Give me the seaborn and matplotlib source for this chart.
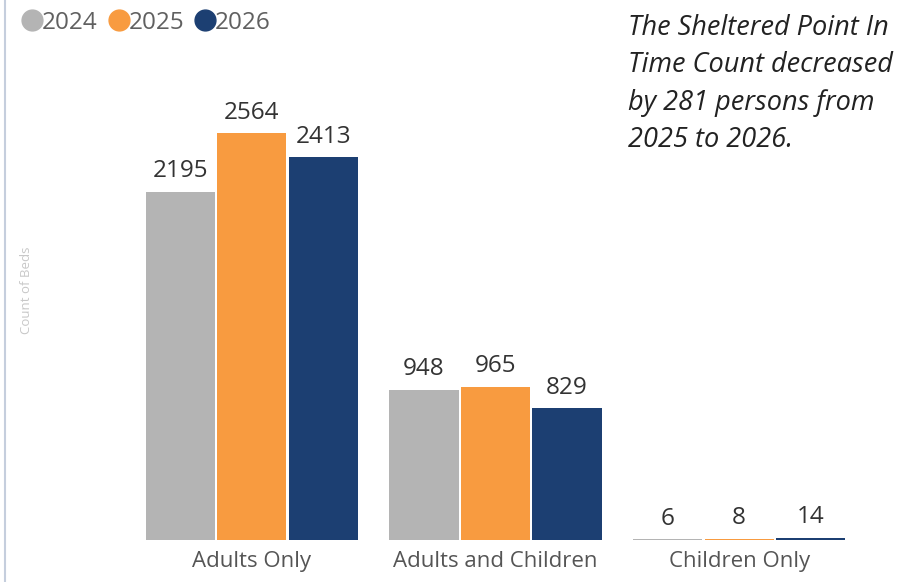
import numpy as np
import pandas as pd
import seaborn as sns
import matplotlib.pyplot as plt
from matplotlib.lines import Line2D

# data
categories = ["Adults Only", "Adults and Children", "Children Only"]
years = ["2024", "2025", "2026"]
beds_2024 = [2195, 948, 6]
beds_2025 = [2564, 965, 8]
beds_2026 = [2413, 829, 14]
colors = ["#B4B4B4", "#F89B40", "#1C3F72"]

df = pd.DataFrame({
    "category": categories * 3,
    "year": [y for y in years for _ in categories],
    "beds": beds_2024 + beds_2025 + beds_2026,
})

sns.set_theme(style="white")
plt.rcParams["font.family"] = ["Open Sans", "DejaVu Sans"]

fig = plt.figure(figsize=(9.05, 5.82), dpi=100)
ax = fig.add_axes([130 / 905, 42 / 582, 731 / 905, 500 / 582])

sns.barplot(data=df, x="category", y="beds", hue="year", order=categories,
            hue_order=years, palette=colors, width=0.88, gap=0.03,
            linewidth=0, saturation=1, legend=False, ax=ax)

for cont in ax.containers:
    ax.bar_label(cont, fontsize=17.5, color="#333333", padding=6)

ax.set_xlim(-0.5, 2.5)
ax.set_ylim(0, 3150)
ax.set_yticks([])
ax.set_xlabel("")
ax.set_ylabel("")
for s in ax.spines.values():
    s.set_visible(False)
ax.tick_params(axis="x", length=0, pad=8, labelsize=16, labelcolor="#555555")

# y axis title, very faint
fig.text(26 / 905, 1 - 290 / 582, "Count of Beds", rotation=90, fontsize=9.5,
         color="#C8C8C8", ha="center", va="center")

# left frame line
fig.add_artist(Line2D([5 / 905, 5 / 905], [0, 1], color="#C5CEDD", lw=1.5))

# legend
handles = [Line2D([], [], marker="o", ls="", markersize=15, color=c) for c in colors]
fig.legend(handles, years, loc="upper left", bbox_to_anchor=(-4 / 905, 1 + 11 / 582),
           ncol=3, frameon=False, fontsize=17.5, labelcolor="#606060",
           handletextpad=-0.2, columnspacing=0.25, handlelength=1.2)

# annotation
fig.text(628 / 905, 1 - 14 / 582,
         "The Sheltered Point In\nTime Count decreased\nby 281 persons from\n2025 to 2026.",
         style="italic", fontsize=19.5, color="#222222", va="top", ha="left",
         linespacing=1.45)

fig.savefig("out.png", dpi=100)
